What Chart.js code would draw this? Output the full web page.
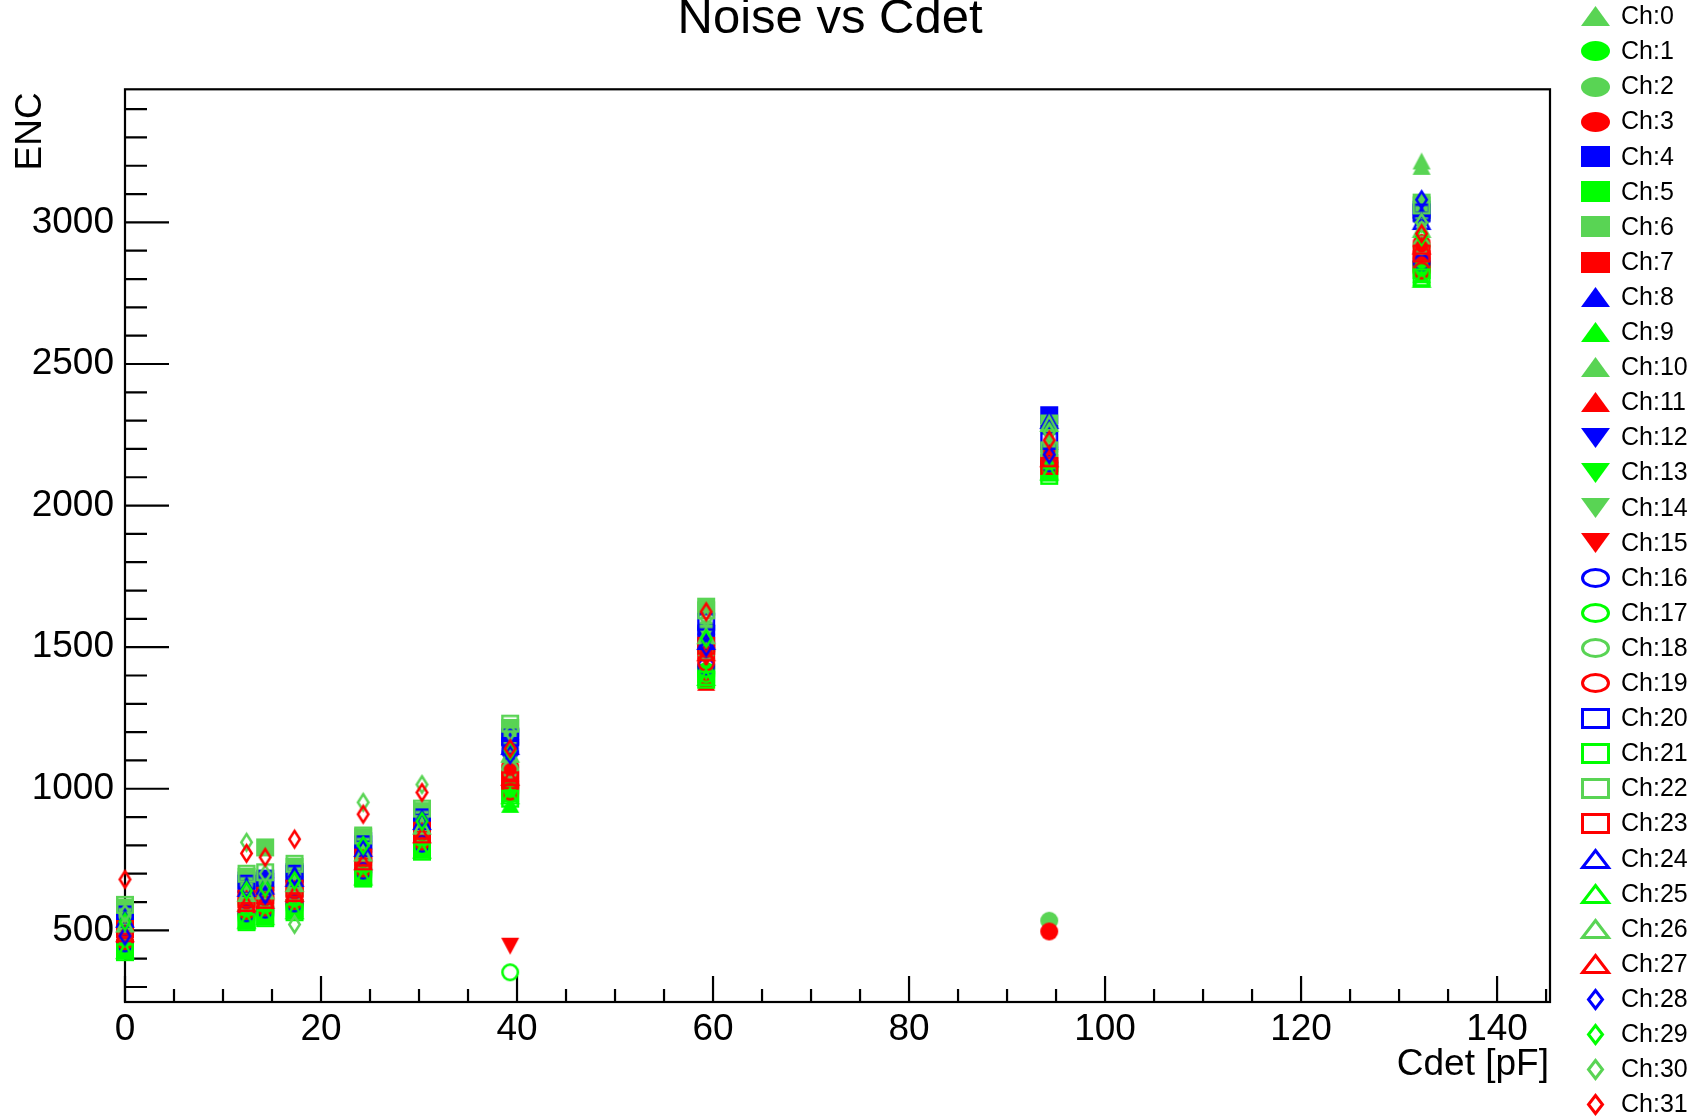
<!DOCTYPE html>
<html>
<head>
<meta charset="utf-8">
<title>Noise vs Cdet</title>
<script src="https://cdn.jsdelivr.net/npm/chart.js@4.4.1/dist/chart.umd.min.js"></script>
<style>
  html, body { margin: 0; padding: 0; background: #fff; }
  canvas { display: block; }
</style>
</head>
<body>
<canvas id="noiseChart" width="1706" height="1116"></canvas>
<script>
// detector capacitance of the test points [pF]
const cdet = [0, 12.4, 14.3, 17.3, 24.3, 30.3, 39.3, 59.3, 94.3, 132.3];

// ENC of every channel, one value per cdet point
const ch0  = [509, 618, 634, 651, 768, 856, 1102, 1528, 2218, 3217];
const ch1  = [448, 553, 562, 589, 701, 802, 1004, 1416, 2140, 2848];
const ch2  = [546, 658, 661, 694, 793, 889, 1160, 1566, 534, 3015];
const ch3  = [499, 602, 616, 641, 748, 843, 1079, 1494, 496, 2928];
const ch4  = [563, 676, 683, 706, 815, 905, 1185, 1548, 2319, 3045];
const ch5  = [436, 540, 556, 579, 694, 790, 985, 1404, 2124, 2832];
const ch6  = [580, 689, 793, 724, 829, 921, 1215, 1643, 2290, 3070];
const ch7  = [506, 610, 624, 648, 760, 850, 1036, 1488, 2150, 2870];
const ch8  = [557, 663, 670, 702, 806, 897, 1172, 1534, 2302, 3030];
const ch9  = [429, 533, 549, 570, 687, 784, 945, 1392, 2115, 2816];
const ch10 = [522, 630, 639, 665, 773, 868, 1122, 1536, 2234, 3198];
const ch11 = [480, 586, 598, 621, 734, 829, 1055, 1376, 2180, 2902];
const ch12 = [537, 646, 658, 681, 787, 882, 1147, 1518, 2254, 3000];
const ch13 = [440, 546, 560, 581, 699, 794, 992, 1411, 2131, 2835];
const ch14 = [530, 639, 647, 674, 781, 876, 1135, 1549, 2245, 2988];
const ch15 = [471, 578, 590, 613, 727, 821, 444, 1458, 2170, 2887];
const ch16 = [454, 560, 573, 595, 711, 806, 1131, 1432, 2148, 2858];
const ch17 = [437, 542, 556, 578, 695, 790, 352, 1404, 2126, 2830];
const ch18 = [488, 595, 606, 630, 742, 837, 1068, 1484, 2191, 2916];
const ch19 = [462, 569, 581, 604, 719, 814, 990, 1445, 2159, 2830];
const ch20 = [556, 665, 672, 700, 804, 899, 1181, 1590, 2228, 3035];
const ch21 = [423, 529, 543, 564, 683, 778, 965, 1385, 2105, 2806];
const ch22 = [590, 700, 705, 735, 835, 930, 1230, 1630, 2195, 3060];
const ch23 = [505, 612, 622, 647, 757, 852, 1030, 1505, 2140, 2890];
const ch24 = [539, 648, 656, 683, 789, 884, 1149, 1520, 2300, 3003];
const ch25 = [428, 534, 548, 569, 688, 783, 975, 1393, 2118, 2799];
const ch26 = [522, 630, 639, 665, 773, 868, 1122, 1540, 2290, 2975];
const ch27 = [488, 595, 606, 630, 742, 837, 1040, 1480, 2165, 2916];
const ch28 = [480, 645, 625, 690, 790, 890, 1120, 1500, 2180, 3080];
const ch29 = [530, 640, 650, 675, 800, 885, 1135, 1530, 2260, 2950];
const ch30 = [560, 811, 700, 521, 952, 1015, 1200, 1600, 2260, 3000];
const ch31 = [680, 772, 758, 822, 910, 987, 1142, 1625, 2231, 2960];

const channelLabels = ['Ch:0', 'Ch:1', 'Ch:2', 'Ch:3', 'Ch:4', 'Ch:5', 'Ch:6', 'Ch:7',
  'Ch:8', 'Ch:9', 'Ch:10', 'Ch:11', 'Ch:12', 'Ch:13', 'Ch:14', 'Ch:15',
  'Ch:16', 'Ch:17', 'Ch:18', 'Ch:19', 'Ch:20', 'Ch:21', 'Ch:22', 'Ch:23',
  'Ch:24', 'Ch:25', 'Ch:26', 'Ch:27', 'Ch:28', 'Ch:29', 'Ch:30', 'Ch:31'];

// labelled axis ticks
const xTicks = [0, 20, 40, 60, 80, 100, 120, 140];
const yTicks = [500, 1000, 1500, 2000, 2500, 3000];

const channels = [ch0, ch1, ch2, ch3, ch4, ch5, ch6, ch7, ch8, ch9, ch10, ch11, ch12, ch13, ch14, ch15,
  ch16, ch17, ch18, ch19, ch20, ch21, ch22, ch23, ch24, ch25, ch26, ch27, ch28, ch29, ch30, ch31];

const chartTitle = 'Noise vs Cdet';
const xTitle = 'Cdet [pF]';
const yTitle = 'ENC';

// root colours
const BLUE = '#0000ff', GREEN = '#00ff00', LGREEN = '#59d454', RED = '#ff0000';
const FONT = "'Liberation Sans', Arial, sans-serif";

// [shape, filled, colour] per channel
const markerStyles = [
  ['triUp', true, LGREEN], ['circle', true, GREEN], ['circle', true, LGREEN], ['circle', true, RED],
  ['square', true, BLUE], ['square', true, GREEN], ['square', true, LGREEN], ['square', true, RED],
  ['triUp', true, BLUE], ['triUp', true, GREEN], ['triUp', true, LGREEN], ['triUp', true, RED],
  ['triDown', true, BLUE], ['triDown', true, GREEN], ['triDown', true, LGREEN], ['triDown', true, RED],
  ['circle', false, BLUE], ['circle', false, GREEN], ['circle', false, LGREEN], ['circle', false, RED],
  ['square', false, BLUE], ['square', false, GREEN], ['square', false, LGREEN], ['square', false, RED],
  ['triUp', false, BLUE], ['triUp', false, GREEN], ['triUp', false, LGREEN], ['triUp', false, RED],
  ['diamond', false, BLUE], ['diamond', false, GREEN], ['diamond', false, LGREEN], ['diamond', false, RED]
];

// outer marker sizes [w, h]: in the frame and (stretched) in the legend
const plotSize = { circle: [18, 18], square: [18, 18], triUp: [18, 17], triDown: [18, 17], diamond: [13, 19] };
const legendSize = { circle: [29, 20], square: [29, 21], triUp: [29, 20], triDown: [29, 20], diamond: [17, 21] };

function makeMarker(shape, filled, color, size, lw) {
  let w = size[0], h = size[1];
  if (!filled) { w -= lw; h -= lw; }
  const pad = 6;
  const c = document.createElement('canvas');
  c.width = Math.round(size[0] + 2 * pad);
  c.height = Math.round(size[1] + 2 * pad);
  const g = c.getContext('2d');
  const cx = c.width / 2, cy = c.height / 2;
  g.beginPath();
  if (shape === 'circle') {
    g.ellipse(cx, cy, w / 2, h / 2, 0, 0, Math.PI * 2);
  } else if (shape === 'square') {
    g.rect(cx - w / 2, cy - h / 2, w, h);
  } else if (shape === 'triUp') {
    g.moveTo(cx, cy - h / 2);
    g.lineTo(cx + w / 2, cy + h / 2);
    g.lineTo(cx - w / 2, cy + h / 2);
    g.closePath();
  } else if (shape === 'triDown') {
    g.moveTo(cx, cy + h / 2);
    g.lineTo(cx + w / 2, cy - h / 2);
    g.lineTo(cx - w / 2, cy - h / 2);
    g.closePath();
  } else {
    g.moveTo(cx, cy - h / 2);
    g.lineTo(cx + w / 2, cy);
    g.lineTo(cx, cy + h / 2);
    g.lineTo(cx - w / 2, cy);
    g.closePath();
  }
  if (filled) {
    g.fillStyle = color;
    g.fill();
  } else {
    g.strokeStyle = color;
    g.lineWidth = lw;
    g.stroke();
  }
  return c;
}

const plotMarkers = markerStyles.map(s => makeMarker(s[0], s[1], s[2], plotSize[s[0]], 2.5));
const legendMarkers = markerStyles.map(s => makeMarker(s[0], s[1], s[2], legendSize[s[0]], 3));

const datasets = channels.map((vals, i) => ({
  label: channelLabels[i],
  data: vals.map((v, k) => ({ x: cdet[k], y: v })),
  pointStyle: plotMarkers[i],
  pointRadius: 9,
  borderColor: markerStyles[i][2],
  backgroundColor: markerStyles[i][2],
  showLine: false,
  clip: false,
  order: 31 - i   // later channels drawn on top, like root
}));

// frame with inward ticks, axis titles and the legend column
const rootDecor = {
  id: 'rootDecor',
  beforeDatasetsDraw(chart) {
    const { ctx, chartArea: a, scales: { x, y } } = chart;
    ctx.save();
    ctx.strokeStyle = '#000';
    ctx.lineWidth = 2.2;
    ctx.strokeRect(a.left, a.top, a.right - a.left, a.bottom - a.top);
    ctx.beginPath();
    for (let v = 0; v <= x.max; v += 5) {
      const px = x.getPixelForValue(v);
      const len = v % 20 === 0 ? 26 : 13;
      ctx.moveTo(px, a.bottom);
      ctx.lineTo(px, a.bottom - len);
    }
    for (let v = Math.ceil(y.min / 100) * 100; v <= y.max; v += 100) {
      const py = y.getPixelForValue(v);
      const len = v % 500 === 0 ? 44 : 22;
      ctx.moveTo(a.left, py);
      ctx.lineTo(a.left + len, py);
    }
    ctx.stroke();
    ctx.restore();
  },
  afterDraw(chart) {
    const { ctx, chartArea: a } = chart;
    ctx.save();
    ctx.fillStyle = '#000';

    ctx.font = '49px ' + FONT;
    ctx.textAlign = 'center';
    ctx.textBaseline = 'alphabetic';
    ctx.fillText(chartTitle, 830, 33);

    ctx.font = '37px ' + FONT;
    ctx.textAlign = 'right';
    ctx.fillText(xTitle, a.right - 1, 1075);

    ctx.save();
    ctx.translate(41, a.top + 3);
    ctx.rotate(-Math.PI / 2);
    ctx.fillText(yTitle, 0, 0);
    ctx.restore();

    ctx.font = '25px ' + FONT;
    ctx.textAlign = 'left';
    ctx.textBaseline = 'middle';
    chart.data.datasets.forEach((ds, i) => {
      const rowY = 16.3 + 35.1 * i;
      const m = legendMarkers[i];
      ctx.drawImage(m, Math.round(1595 - m.width / 2), Math.round(rowY - m.height / 2));
      ctx.fillText(ds.label, 1621, rowY + 1);
    });
    ctx.restore();
  }
};

new Chart(document.getElementById('noiseChart'), {
  type: 'scatter',
  data: { datasets: datasets },
  options: {
    responsive: false,
    animation: false,
    devicePixelRatio: 1,
    events: [],
    layout: { padding: { top: 89.3, right: 156, bottom: 0, left: 0 } },
    plugins: {
      legend: { display: false },
      tooltip: { enabled: false },
      title: { display: false }
    },
    scales: {
      x: {
        type: 'linear',
        min: 0,
        max: 145.4,
        grid: { display: false, drawTicks: false },
        border: { display: false },
        afterBuildTicks(scale) { scale.ticks = xTicks.map(v => ({ value: v })); },
        ticks: {
          maxRotation: 0,
          autoSkip: false,
          padding: 6,
          color: '#000',
          font: { family: FONT, size: 37 },
          callback: v => String(v)
        },
        afterFit(scale) { scale.height = 114; }
      },
      y: {
        type: 'linear',
        min: 247,
        max: 3470,
        grid: { display: false, drawTicks: false },
        border: { display: false },
        afterBuildTicks(scale) { scale.ticks = yTicks.map(v => ({ value: v })); },
        ticks: {
          padding: 11,
          color: '#000',
          font: { family: FONT, size: 37 },
          callback: v => String(v)
        },
        afterFit(scale) { scale.width = 125; }
      }
    }
  },
  plugins: [rootDecor]
});
</script>
</body>
</html>
